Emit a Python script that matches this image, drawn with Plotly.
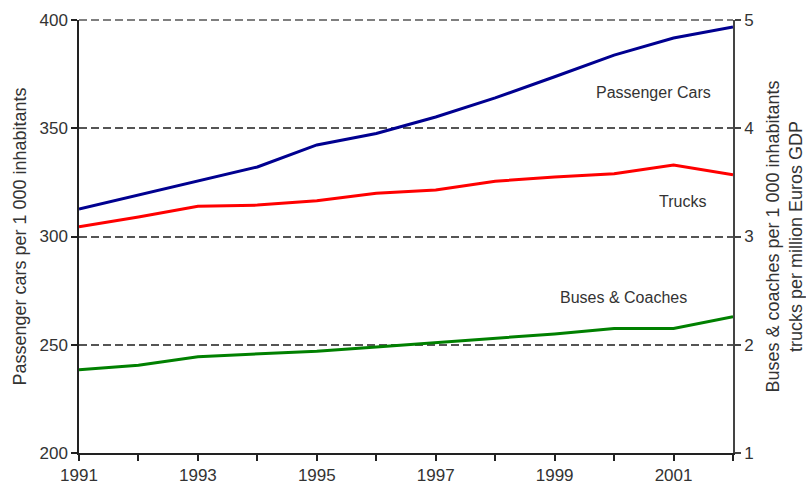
import plotly.graph_objects as go

years = list(range(1991, 2003))
passenger_cars = [312.7, 319.2, 325.6, 332.1, 342.3, 347.6, 355.2, 364.0, 373.8, 383.8, 391.7, 396.8]
trucks = [3.09, 3.18, 3.28, 3.29, 3.33, 3.40, 3.43, 3.51, 3.55, 3.58, 3.66, 3.57]
buses = [1.77, 1.81, 1.89, 1.915, 1.94, 1.98, 2.02, 2.06, 2.10, 2.15, 2.15, 2.26]

x_tickvals = years
x_ticktext = [str(y) if y % 2 == 1 else "" for y in years]
left_ticks = [200, 250, 300, 350, 400]
right_ticks = [1, 2, 3, 4, 5]

FONT = "Liberation Sans, Arial, sans-serif"
TXT = "#333333"
GRID = "#555555"

fig = go.Figure()
fig.add_trace(go.Scatter(x=years, y=passenger_cars, mode="lines",
                         line=dict(color="#000090", width=3), yaxis="y", showlegend=False))
fig.add_trace(go.Scatter(x=years, y=trucks, mode="lines",
                         line=dict(color="#ff0000", width=3), yaxis="y2", showlegend=False))
fig.add_trace(go.Scatter(x=years, y=buses, mode="lines",
                         line=dict(color="#008000", width=3), yaxis="y2", showlegend=False))

fig.update_layout(
    width=806, height=488,
    margin=dict(l=79, r=73, t=20, b=35, autoexpand=False),
    paper_bgcolor="white", plot_bgcolor="white",
    font=dict(family=FONT, color=TXT, size=17),
    xaxis=dict(range=[1991, 2002], tickvals=x_tickvals, ticktext=x_ticktext,
               automargin=False,
               showgrid=False, zeroline=False, showline=True, linecolor="#222222", linewidth=1.5,
               ticks="outside", ticklen=6, tickcolor="#222222", tickwidth=1.5,
               tickfont=dict(size=17, color=TXT)),
    yaxis=dict(range=[200, 400], tickvals=left_ticks, showgrid=True, automargin=False,
               gridcolor=GRID, griddash="8px,4px", gridwidth=1.5,
               zeroline=False, showline=True, linecolor="#222222", linewidth=1.5,
               ticks="outside", ticklen=6, tickcolor="#222222", tickwidth=1.5,
               tickfont=dict(size=17, color=TXT),
               title=dict(text="Passenger cars per 1 000 inhabitants",
                          font=dict(size=18, color=TXT), standoff=8)),
    yaxis2=dict(range=[1, 5], tickvals=right_ticks, overlaying="y", side="right",
                automargin=False,
                showgrid=False, zeroline=False, showline=True, linecolor="#444444", linewidth=1.5,
                ticks="outside", ticklen=6, tickcolor="#444444", tickwidth=1.5,
                tickfont=dict(size=17, color=TXT),
                title=dict(text="Buses & coaches per 1 000 inhabitants<br>trucks per million Euros GDP",
                           font=dict(size=18, color=TXT), standoff=16)),
)

# top gridline at 400 (edge of plot)
fig.add_shape(type="line", xref="paper", yref="paper", x0=0, x1=1, y0=1, y1=1,
              line=dict(color=GRID, width=1.5, dash="8px,4px"), layer="below")

labels = [("Passenger Cars", 653, 92), ("Trucks", 682, 202), ("Buses & Coaches", 623, 297)]
for text, px, py in labels:
    fig.add_annotation(text=text, xref="paper", yref="paper",
                       x=(px - 79) / 654, y=(453 - py) / 433,
                       showarrow=False, font=dict(size=16, color=TXT),
                       xanchor="center", yanchor="middle")

fig.write_html("out.html", config={"displayModeBar": False},
               post_script="document.body.style.margin='0px';document.body.style.overflow='hidden';")
